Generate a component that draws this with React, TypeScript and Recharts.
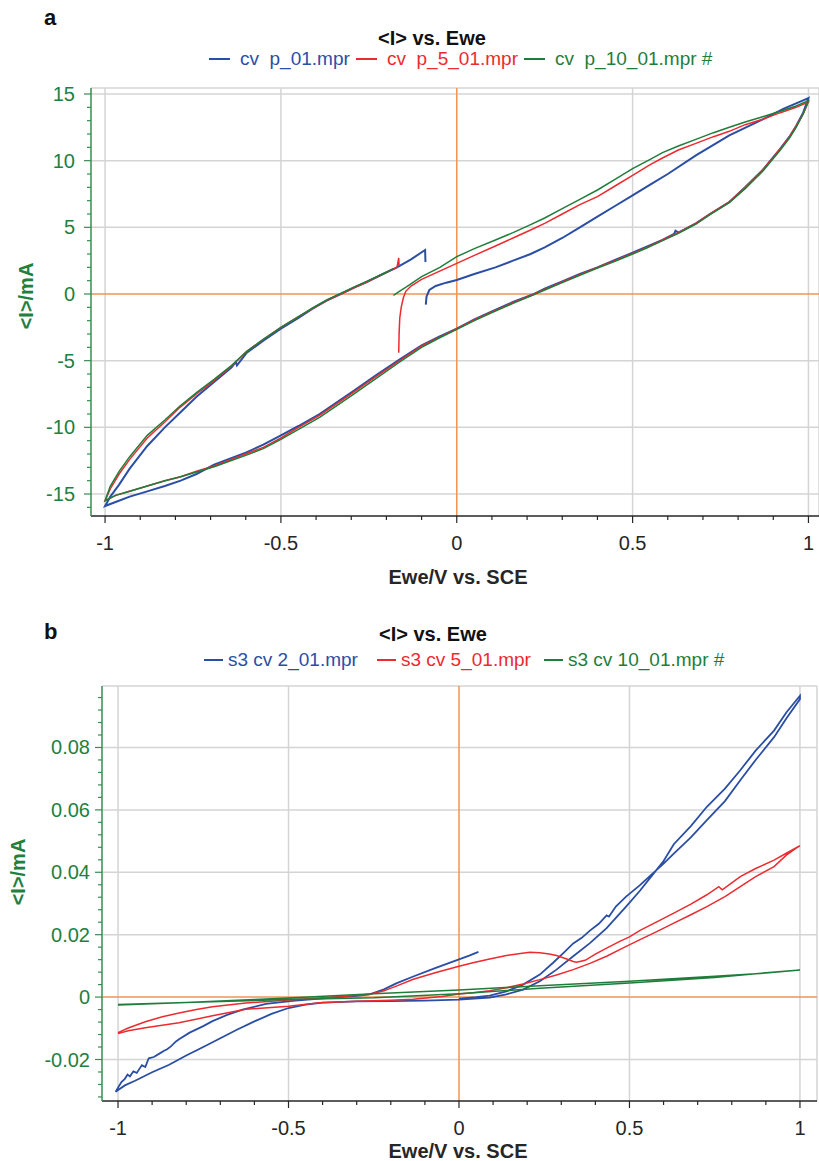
import React from 'react'
import { LineChart, Line, XAxis, YAxis, ReferenceLine } from 'recharts'

type Pt = [number, number]

// ---------- panel a : <I> (mA) vs Ewe (V) ----------
const legendA = ['cv  p_01.mpr', 'cv  p_5_01.mpr', 'cv  p_10_01.mpr #']

const cvP01: Pt[] = [
  [-0.088, -0.8], [-0.086, -0.2], [-0.078, 0.3], [-0.06, 0.6], [-0.03, 0.85], [0, 1.05], [0.05, 1.5],
  [0.11, 2.0], [0.16, 2.5], [0.21, 3.0], [0.25, 3.5], [0.3, 4.2], [0.35, 5.0], [0.4, 5.8], [0.45, 6.6],
  [0.5, 7.4], [0.55, 8.2], [0.6, 9.0], [0.68, 10.4], [0.775, 11.9], [0.87, 13.1], [0.93, 13.9],
  [0.965, 14.3], [1.0, 14.7],
  [0.985, 13.6], [0.965, 12.6], [0.946, 11.8], [0.92, 10.9], [0.87, 9.3], [0.82, 8.0], [0.775, 6.9],
  [0.72, 6.0], [0.68, 5.3], [0.63, 4.6], [0.622, 4.75], [0.618, 4.5], [0.585, 4.05], [0.54, 3.55], [0.5, 3.1],
  [0.45, 2.55], [0.4, 2.0], [0.35, 1.5], [0.3, 0.95], [0.25, 0.4], [0.22, 0.0], [0.16, -0.6], [0.1, -1.3],
  [0.05, -1.9], [0.0, -2.6], [-0.05, -3.2], [-0.1, -3.85], [-0.162, -4.9], [-0.23, -6.1], [-0.295, -7.3],
  [-0.39, -9.0], [-0.45, -9.9], [-0.5, -10.6], [-0.55, -11.3], [-0.6, -11.9], [-0.69, -12.8],
  [-0.74, -13.5], [-0.785, -14.0], [-0.83, -14.4], [-0.88, -14.8], [-0.93, -15.2], [-0.97, -15.6],
  [-1.0, -15.9],
  [-0.985, -15.2], [-0.96, -14.3], [-0.93, -13.1], [-0.88, -11.4], [-0.83, -10.0], [-0.787, -8.9],
  [-0.74, -7.7], [-0.69, -6.6], [-0.64, -5.5], [-0.628, -5.1], [-0.625, -5.35], [-0.597, -4.4],
  [-0.55, -3.5], [-0.5, -2.6], [-0.45, -1.8], [-0.41, -1.1], [-0.37, -0.5], [-0.33, 0], [-0.29, 0.5],
  [-0.256, 0.9], [-0.21, 1.5], [-0.17, 2.0], [-0.13, 2.6], [-0.09, 3.3], [-0.089, 2.4],
]

const cvP501: Pt[] = [
  [-0.165, -4.4], [-0.164, -3.0], [-0.162, -1.8], [-0.158, -1.0], [-0.152, -0.3], [-0.145, 0.2],
  [-0.13, 0.6], [-0.1, 1.1], [-0.05, 1.7], [0, 2.3], [0.05, 2.9], [0.11, 3.6], [0.16, 4.2], [0.21, 4.8],
  [0.25, 5.3], [0.3, 6.0], [0.35, 6.7], [0.4, 7.3], [0.45, 8.1], [0.5, 8.9], [0.55, 9.7], [0.585, 10.2],
  [0.63, 10.8], [0.68, 11.3], [0.73, 11.8], [0.775, 12.2], [0.82, 12.7], [0.87, 13.1], [0.92, 13.6],
  [0.965, 14.0], [1.0, 14.4],
  [0.985, 13.5], [0.965, 12.6], [0.946, 11.8], [0.92, 10.9], [0.87, 9.3], [0.82, 8.0], [0.775, 6.9],
  [0.72, 6.0], [0.68, 5.3], [0.63, 4.6], [0.585, 4.05], [0.54, 3.5], [0.5, 3.05], [0.45, 2.5], [0.4, 2.0],
  [0.35, 1.45], [0.3, 0.9], [0.25, 0.35], [0.22, 0.0], [0.16, -0.65], [0.1, -1.35], [0.05, -1.95],
  [0.0, -2.6], [-0.05, -3.25], [-0.1, -3.9], [-0.162, -5.0], [-0.23, -6.2], [-0.295, -7.4], [-0.39, -9.1],
  [-0.45, -10.0], [-0.5, -10.8], [-0.55, -11.5], [-0.6, -12.0], [-0.69, -12.9], [-0.74, -13.3],
  [-0.785, -13.7], [-0.83, -14.0], [-0.88, -14.4], [-0.93, -14.8], [-0.97, -15.1], [-1.0, -15.5],
  [-0.985, -14.6], [-0.96, -13.5], [-0.93, -12.4], [-0.88, -10.8], [-0.83, -9.6], [-0.787, -8.5],
  [-0.74, -7.5], [-0.69, -6.5], [-0.64, -5.4], [-0.597, -4.3], [-0.55, -3.4], [-0.5, -2.5], [-0.45, -1.7],
  [-0.41, -1.1], [-0.37, -0.5], [-0.33, 0], [-0.29, 0.5], [-0.256, 0.9], [-0.21, 1.5], [-0.17, 2.0],
  [-0.165, 2.7], [-0.164, 2.1],
]

const cvP1001: Pt[] = [
  [-0.18, -0.1], [-0.16, 0.25], [-0.142, 0.55], [-0.1, 1.3], [-0.048, 2.0], [0, 2.8], [0.05, 3.4],
  [0.11, 4.05], [0.16, 4.6], [0.21, 5.2], [0.25, 5.7], [0.3, 6.4], [0.35, 7.1], [0.4, 7.8], [0.45, 8.6],
  [0.5, 9.4], [0.55, 10.1], [0.585, 10.6], [0.63, 11.1], [0.68, 11.6], [0.73, 12.1], [0.775, 12.5],
  [0.82, 12.9], [0.87, 13.3], [0.92, 13.7], [0.965, 14.1], [1.0, 14.5],
  [0.985, 13.5], [0.965, 12.5], [0.946, 11.7], [0.92, 10.8], [0.87, 9.2], [0.82, 7.9], [0.775, 6.85],
  [0.72, 5.95], [0.68, 5.25], [0.63, 4.55], [0.585, 4.0], [0.54, 3.45], [0.5, 3.0], [0.45, 2.45],
  [0.4, 1.95], [0.35, 1.4], [0.3, 0.85], [0.25, 0.3], [0.22, -0.05], [0.16, -0.7], [0.1, -1.4],
  [0.05, -2.0], [0.0, -2.65], [-0.05, -3.3], [-0.1, -4.0], [-0.162, -5.1], [-0.23, -6.35], [-0.295, -7.55],
  [-0.39, -9.25], [-0.45, -10.15], [-0.5, -10.9], [-0.55, -11.6], [-0.6, -12.1], [-0.69, -12.95],
  [-0.74, -13.35], [-0.785, -13.7], [-0.83, -14.0], [-0.88, -14.4], [-0.93, -14.8], [-0.97, -15.1],
  [-1.0, -15.5],
  [-0.985, -14.4], [-0.96, -13.3], [-0.93, -12.2], [-0.88, -10.6], [-0.83, -9.45], [-0.787, -8.4],
  [-0.74, -7.4], [-0.69, -6.4], [-0.64, -5.35], [-0.597, -4.3], [-0.55, -3.4], [-0.5, -2.5], [-0.45, -1.7],
  [-0.41, -1.05], [-0.37, -0.45], [-0.33, 0.05], [-0.29, 0.55], [-0.256, 0.95], [-0.21, 1.5], [-0.18, 1.9],
]

const xMajorA = [-1, -0.5, 0, 0.5, 1]
const xTicksA = [-1, -0.9, -0.8, -0.7, -0.6, -0.5, -0.4, -0.3, -0.2, -0.1, 0, 0.1, 0.2, 0.3, 0.4, 0.5, 0.6, 0.7, 0.8, 0.9, 1]
const yMajorA = [-15, -10, -5, 0, 5, 10, 15]
const yTicksA = [-16, -15, -14, -13, -12, -11, -10, -9, -8, -7, -6, -5, -4, -3, -2, -1, 0, 1, 2, 3, 4, 5, 6, 7, 8, 9, 10, 11, 12, 13, 14, 15]

// ---------- panel b ----------
const legendB = ['s3 cv 2_01.mpr', 's3 cv 5_01.mpr', 's3 cv 10_01.mpr #']

const s3cv2: Pt[] = [
  [0, -0.0005], [0.05, 0.0], [0.09, 0.0005], [0.139, 0.0018], [0.188, 0.004], [0.237, 0.0072],
  [0.276, 0.011], [0.306, 0.0141], [0.335, 0.0172], [0.36, 0.019], [0.384, 0.0213], [0.41, 0.0235],
  [0.433, 0.0262], [0.44, 0.0258], [0.46, 0.029], [0.49, 0.0322], [0.53, 0.0358], [0.57, 0.0398],
  [0.6, 0.0428], [0.63, 0.046], [0.68, 0.0512], [0.727, 0.0567], [0.78, 0.0628], [0.825, 0.0695],
  [0.87, 0.076], [0.924, 0.0833], [0.96, 0.0893], [1.0, 0.0955],
  [1.0, 0.0966], [0.96, 0.0912], [0.924, 0.0854], [0.87, 0.079], [0.825, 0.0727], [0.78, 0.0668],
  [0.727, 0.061], [0.68, 0.0548], [0.63, 0.049], [0.6, 0.0436], [0.57, 0.0395], [0.53, 0.034],
  [0.49, 0.029], [0.433, 0.0221], [0.384, 0.0173], [0.335, 0.0131], [0.286, 0.0088], [0.237, 0.0051],
  [0.188, 0.0024], [0.139, 0.0009], [0.09, -0.0002], [0, -0.0008], [-0.1, -0.0011], [-0.2, -0.0013],
  [-0.3, -0.0014], [-0.4, -0.0018], [-0.45, -0.0024], [-0.5, -0.0035], [-0.55, -0.0054], [-0.6, -0.0078],
  [-0.65, -0.0104], [-0.7, -0.0132], [-0.75, -0.016], [-0.8, -0.0187], [-0.85, -0.0217], [-0.9, -0.0241],
  [-0.95, -0.0268], [-0.98, -0.0283], [-1.007, -0.0303],
  [-0.99, -0.0272], [-0.98, -0.0262], [-0.972, -0.0248], [-0.965, -0.0254], [-0.955, -0.0238],
  [-0.945, -0.0243], [-0.93, -0.0218], [-0.92, -0.0224], [-0.91, -0.0196], [-0.895, -0.0192],
  [-0.88, -0.0182], [-0.865, -0.0172], [-0.856, -0.0167], [-0.845, -0.0158], [-0.83, -0.0142],
  [-0.821, -0.0135], [-0.79, -0.0114], [-0.75, -0.0093], [-0.723, -0.0077], [-0.68, -0.0057],
  [-0.635, -0.004], [-0.566, -0.0022], [-0.488, -0.0012], [-0.39, -0.0003], [-0.3, 0.0004],
  [-0.262, 0.0009], [-0.22, 0.0025], [-0.184, 0.0044], [-0.134, 0.0066], [-0.07, 0.0093], [0, 0.0121],
  [0.03, 0.0133], [0.057, 0.0145],
]

const s3cv5: Pt[] = [
  [-1, -0.0114], [-0.97, -0.0099], [-0.92, -0.0079], [-0.87, -0.0063], [-0.821, -0.0051], [-0.77, -0.004],
  [-0.723, -0.0031], [-0.625, -0.0019], [-0.5, -0.0009], [-0.4, -0.0002], [-0.33, 0.0003], [-0.262, 0.0009],
  [-0.22, 0.002], [-0.184, 0.0035], [-0.134, 0.0057], [-0.07, 0.0078], [0, 0.0099], [0.041, 0.011],
  [0.09, 0.0122], [0.139, 0.0133], [0.18, 0.014], [0.208, 0.0144], [0.237, 0.0142], [0.265, 0.0138],
  [0.286, 0.0133], [0.316, 0.0122], [0.335, 0.0114], [0.345, 0.0112], [0.37, 0.0118], [0.4, 0.0138],
  [0.433, 0.0157], [0.47, 0.0178], [0.5, 0.0193], [0.531, 0.0214], [0.58, 0.0241], [0.63, 0.0269],
  [0.68, 0.0298], [0.727, 0.0328], [0.762, 0.0354], [0.772, 0.0344], [0.8, 0.0366], [0.825, 0.0386],
  [0.87, 0.0412], [0.924, 0.0439], [0.96, 0.0461], [1.0, 0.0485],
  [0.99, 0.0478], [0.96, 0.0455], [0.924, 0.0418], [0.87, 0.0386], [0.825, 0.0354], [0.78, 0.0322],
  [0.727, 0.029], [0.68, 0.0264], [0.63, 0.0237], [0.58, 0.021], [0.531, 0.0184], [0.48, 0.0157],
  [0.433, 0.0131], [0.384, 0.0108], [0.335, 0.0088], [0.286, 0.0071], [0.237, 0.0056], [0.188, 0.0042],
  [0.139, 0.003], [0.09, 0.002], [0.041, 0.0014], [0, 0.001], [-0.05, 0.0002], [-0.134, -0.0007],
  [-0.2, -0.001], [-0.3, -0.0013], [-0.409, -0.0018], [-0.5, -0.0029], [-0.625, -0.0039],
  [-0.723, -0.006], [-0.821, -0.0082], [-0.92, -0.0098], [-0.97, -0.0108], [-1, -0.0117],
]

const s3cv10: Pt[] = [
  [-1, -0.0024], [-0.8, -0.0017], [-0.6, -0.0008], [-0.5, -0.0003], [-0.25, 0.0011], [0, 0.0023],
  [0.237, 0.0036], [0.5, 0.0051], [0.75, 0.0067], [0.9, 0.0077], [1.0, 0.0087],
  [0.9, 0.0078], [0.75, 0.0063], [0.5, 0.0045], [0.237, 0.0028], [0, 0.0011], [-0.25, -0.0002],
  [-0.5, -0.0008], [-0.8, -0.0017], [-1, -0.0025],
]

const xMajorB = [-1, -0.5, 0, 0.5, 1]
const xTicksB = xTicksA
const yMajorB = [-0.02, 0, 0.02, 0.04, 0.06, 0.08]
const yTicksB = [
  -0.032, -0.028, -0.024, -0.02, -0.016, -0.012, -0.008, -0.004, 0, 0.004, 0.008, 0.012, 0.016, 0.02,
  0.024, 0.028, 0.032, 0.036, 0.04, 0.044, 0.048, 0.052, 0.056, 0.06, 0.064, 0.068, 0.072, 0.076, 0.08,
  0.084, 0.088, 0.092, 0.096,
]

const BLUE = '#2b4ea5'
const RED = '#ec2a30'
const GREEN = '#1f7d3b'
const GRID = '#d4d4d4'
const ORANGE = '#ef9555'
const GREEN_AXIS = '#3a8c52'
const GREEN_TEXT = '#22803f'
const DARK = '#262626'
const FONT = '"Liberation Sans", Arial, Helvetica, sans-serif'

const isMajor = (v: number, majors: number[]) => majors.some((m) => Math.abs(m - v) < 1e-9)

function XTick({ x, y, payload, majors }: any) {
  const major = isMajor(payload.value, majors)
  return (
    <g>
      <line x1={x} x2={x} y1={y} y2={y + (major ? 7 : 4)} stroke={DARK} strokeWidth={1.2} />
      {major && (
        <text x={x} y={y + 34} textAnchor="middle" fontSize={20} fontFamily={FONT} fill={DARK}>
          {String(payload.value)}
        </text>
      )}
    </g>
  )
}

function YTick({ x, y, payload, majors, gap }: any) {
  const major = isMajor(payload.value, majors)
  return (
    <g>
      <line x1={x - (major ? 7 : 4)} x2={x} y1={y} y2={y} stroke={GREEN_AXIS} strokeWidth={1.2} />
      {major && (
        <text x={x - gap} y={y + 7} textAnchor="end" fontSize={20} fontFamily={FONT} fill={GREEN_TEXT}>
          {String(payload.value)}
        </text>
      )}
    </g>
  )
}

interface Series { name: string; color: string; width: number; points: Pt[] }

interface PanelProps {
  top: number
  height: number
  margin: { top: number; right: number; bottom: number; left: number }
  xAxisHeight: number
  xDomain: [number, number]
  yDomain: [number, number]
  xTicks: number[]
  xMajor: number[]
  yTicks: number[]
  yMajor: number[]
  labelGap: number
  series: Series[]
}

function Panel(p: PanelProps) {
  return (
    <div style={{ position: 'absolute', left: 0, top: p.top }}>
      <LineChart width={819} height={p.height} margin={p.margin}>
        {p.xMajor.filter((v) => v !== 0).map((v) => (
          <ReferenceLine key={'gx' + v} x={v} stroke={GRID} strokeWidth={1.5} />
        ))}
        {p.yMajor.filter((v) => v !== 0).map((v) => (
          <ReferenceLine key={'gy' + v} y={v} stroke={GRID} strokeWidth={1.5} />
        ))}
        <ReferenceLine y={p.yDomain[1]} stroke={GRID} strokeWidth={1.5} />
        <ReferenceLine x={p.xDomain[1]} stroke={GRID} strokeWidth={1.5} />
        <ReferenceLine x={0} stroke={ORANGE} strokeWidth={1.5} />
        <ReferenceLine y={0} stroke={ORANGE} strokeWidth={1.5} />
        <XAxis
          type="number"
          dataKey="v"
          domain={p.xDomain}
          allowDataOverflow
          ticks={p.xTicks}
          interval={0}
          tickLine={false}
          tickSize={0}
          tickMargin={0}
          height={p.xAxisHeight}
          axisLine={{ stroke: DARK, strokeWidth: 1.5 }}
          tick={(t: any) => <XTick {...t} majors={p.xMajor} />}
        />
        <YAxis
          type="number"
          domain={p.yDomain}
          allowDataOverflow
          ticks={p.yTicks}
          interval={0}
          tickLine={false}
          tickSize={0}
          tickMargin={0}
          width={60}
          axisLine={{ stroke: GREEN_AXIS, strokeWidth: 1.5 }}
          tick={(t: any) => <YTick {...t} majors={p.yMajor} gap={p.labelGap} />}
        />
        {p.series.map((s) => (
          <Line
            key={s.name}
            data={s.points.map(([v, i]) => ({ v, i }))}
            dataKey="i"
            type="linear"
            stroke={s.color}
            strokeWidth={s.width}
            dot={false}
            activeDot={false}
            isAnimationActive={false}
          />
        ))}
      </LineChart>
    </div>
  )
}

const colors = [BLUE, RED, GREEN]

function LegendRow({ top, starts, names, lineW, gap }: { top: number; starts: number[]; names: string[]; lineW: number; gap: number }) {
  return (
    <>
      {names.map((n, k) => (
        <div key={n} style={{ position: 'absolute', left: starts[k], top, display: 'flex', alignItems: 'center', height: 20 }}>
          <div style={{ width: lineW, height: 2, background: colors[k], marginRight: gap }} />
          <span style={{ fontSize: 19, lineHeight: '20px', color: colors[k], whiteSpace: 'pre' }}>{n}</span>
        </div>
      ))}
    </>
  )
}

const txt = (left: number, top: number, size: number, text: string, extra: React.CSSProperties = {}) => (
  <div style={{ position: 'absolute', left, top, fontSize: size, lineHeight: `${size}px`, whiteSpace: 'pre', ...extra }}>{text}</div>
)

export default function App() {
  const seriesA: Series[] = [
    { name: legendA[0], color: BLUE, width: 2, points: cvP01 },
    { name: legendA[1], color: RED, width: 1.5, points: cvP501 },
    { name: legendA[2], color: GREEN, width: 1.5, points: cvP1001 },
  ]
  const seriesB: Series[] = [
    { name: legendB[0], color: BLUE, width: 1.8, points: s3cv2 },
    { name: legendB[1], color: RED, width: 1.5, points: s3cv5 },
    { name: legendB[2], color: GREEN, width: 1.5, points: s3cv10 },
  ]
  const rot: React.CSSProperties = { transform: 'translate(-50%, -50%) rotate(-90deg)', fontWeight: 'bold', color: GREEN_TEXT }
  const mid: React.CSSProperties = { transform: 'translateX(-50%)', fontWeight: 'bold', color: DARK }
  return (
    <div style={{ position: 'absolute', left: 0, top: 0, width: 819, height: 1161, background: '#fff', fontFamily: FONT, overflow: 'hidden' }}>
      <Panel
        top={0}
        height={600}
        margin={{ top: 88, right: 0, bottom: 24, left: 31 }}
        xAxisHeight={60}
        xDomain={[-1.04, 1.03]}
        yDomain={[-16.65, 15.45]}
        xTicks={xTicksA}
        xMajor={xMajorA}
        yTicks={yTicksA}
        yMajor={yMajorA}
        labelGap={16}
        series={seriesA}
      />
      <Panel
        top={600}
        height={561}
        margin={{ top: 86, right: 2, bottom: 20, left: 42 }}
        xAxisHeight={40}
        xDomain={[-1.047, 1.05]}
        yDomain={[-0.0333, 0.0997]}
        xTicks={xTicksB}
        xMajor={xMajorB}
        yTicks={yTicksB}
        yMajor={yMajorB}
        labelGap={12}
        series={seriesB}
      />
      {txt(44, 7, 22, 'a', { fontWeight: 'bold', color: '#111' })}
      {txt(378, 28, 20, '<I> vs. Ewe', { fontWeight: 'bold', color: '#111' })}
      <LegendRow top={49} starts={[209, 356, 524]} names={legendA} lineW={21} gap={10} />
      {txt(458, 567, 20, 'Ewe/V vs. SCE', mid)}
      {txt(26, 296, 20, '<I>/mA', rot)}

      {txt(44, 621, 22, 'b', { fontWeight: 'bold', color: '#111' })}
      {txt(379, 624, 20, '<I> vs. Ewe', { fontWeight: 'bold', color: '#111' })}
      <LegendRow top={650} starts={[204, 377, 544]} names={legendB} lineW={19} gap={5} />
      {txt(458, 1141, 20, 'Ewe/V vs. SCE', mid)}
      {txt(18, 872, 20, '<I>/mA', rot)}
    </div>
  )
}
